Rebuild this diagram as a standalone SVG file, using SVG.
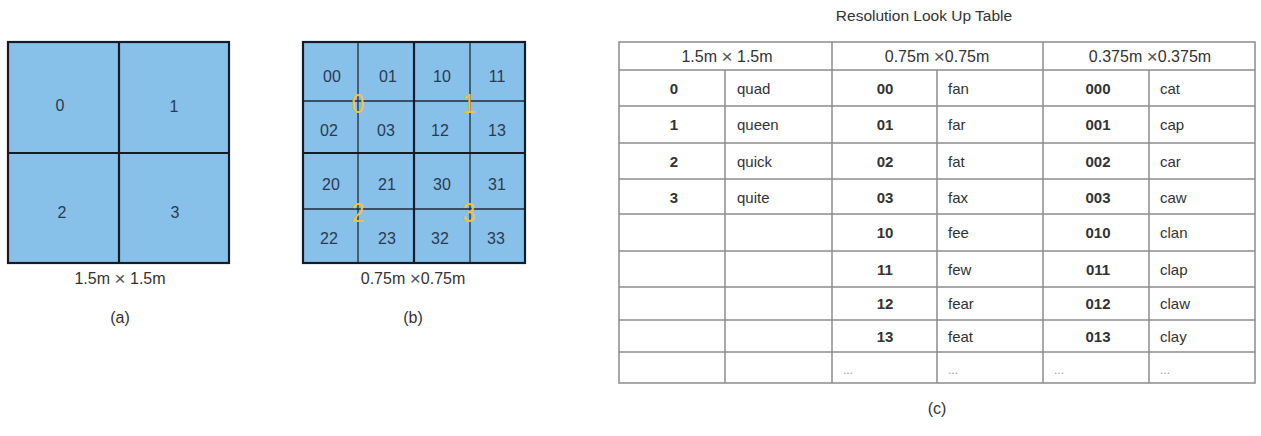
<svg xmlns="http://www.w3.org/2000/svg" width="1261" height="436" viewBox="0 0 1261 436">
<style>
.cell{fill:#87c0e9}
.thick{stroke:#161c26;stroke-width:2.2;fill:none}
.thin{stroke:#1f2a3d;stroke-width:1.3;fill:none}
.lbl{font-family:"Liberation Sans",Arial,sans-serif;font-size:16px;fill:#2b3a4f;text-anchor:middle;dominant-baseline:central}
.big{font-family:"Liberation Sans",Arial,sans-serif;font-size:27px;fill:#f0c23c;text-anchor:middle;dominant-baseline:central}
.cap{font-family:"Liberation Sans",Arial,sans-serif;font-size:16px;fill:#333;text-anchor:middle;dominant-baseline:central}
.x{font-size:19px;fill:#555}
.tl{stroke:#8c8c8c;stroke-width:1.5;fill:none}
.t{font-family:"Liberation Sans",Arial,sans-serif;font-size:15px;fill:#333;dominant-baseline:central}
.h{font-size:16px}
.b{font-weight:bold;text-anchor:middle}
.m{text-anchor:middle}
.d{fill:#999;font-size:12px}
</style>
<rect width="1261" height="436" fill="#ffffff"/>

<g id="grid-a">
<rect class="cell" x="8" y="42" width="221" height="221"/>
<line class="thick" x1="119" y1="42" x2="119" y2="263"/>
<line class="thick" x1="8" y1="153" x2="229" y2="153"/>
<rect class="thick" x="8" y="42" width="221" height="221"/>
<text class="lbl" x="60" y="105">0</text>
<text class="lbl" x="174" y="106">1</text>
<text class="lbl" x="62" y="212">2</text>
<text class="lbl" x="175" y="212">3</text>
<text class="cap" x="120" y="278">1.5m <tspan class="x">×</tspan> 1.5m</text>
<text class="cap" x="120" y="317">(a)</text>
</g>

<g id="grid-b">
<rect class="cell" x="303" y="42" width="222" height="221"/>
<line class="thin" x1="358" y1="42" x2="358" y2="263"/>
<line class="thin" x1="470" y1="42" x2="470" y2="263"/>
<line class="thin" x1="303" y1="101" x2="525" y2="101"/>
<line class="thin" x1="303" y1="209" x2="525" y2="209"/>
<line class="thick" x1="414" y1="42" x2="414" y2="263"/>
<line class="thick" x1="303" y1="153" x2="525" y2="153"/>
<rect class="thick" x="303" y="42" width="222" height="221"/>
<text class="lbl" x="332" y="76">00</text>
<text class="lbl" x="388" y="76">01</text>
<text class="lbl" x="442" y="76">10</text>
<text class="lbl" x="497" y="76">11</text>
<text class="lbl" x="329" y="130">02</text>
<text class="lbl" x="386" y="130">03</text>
<text class="lbl" x="440" y="130">12</text>
<text class="lbl" x="497" y="130">13</text>
<text class="lbl" x="331" y="184">20</text>
<text class="lbl" x="387" y="184">21</text>
<text class="lbl" x="442" y="184">30</text>
<text class="lbl" x="497" y="184">31</text>
<text class="lbl" x="329" y="238">22</text>
<text class="lbl" x="387" y="238">23</text>
<text class="lbl" x="440" y="238">32</text>
<text class="lbl" x="496" y="238">33</text>
<text class="big" x="358" y="103" transform="translate(358 103) scale(0.85 1) translate(-358 -103)">0</text>
<text class="big" x="469" y="103" transform="translate(469 103) scale(0.85 1) translate(-469 -103)">1</text>
<text class="big" x="358" y="212" transform="translate(358 212) scale(0.85 1) translate(-358 -212)">2</text>
<text class="big" x="469" y="212" transform="translate(469 212) scale(0.85 1) translate(-469 -212)">3</text>
<text class="cap" x="413" y="278">0.75m <tspan class="x">×</tspan>0.75m</text>
<text class="cap" x="413" y="317">(b)</text>
</g>

<g id="table">
<text class="cap" x="924" y="15" style="font-size:15.5px">Resolution Look Up Table</text>
<rect class="tl" x="619" y="42" width="636" height="341"/>
<line class="tl" x1="619" y1="70" x2="1255" y2="70"/>
<line class="tl" x1="619" y1="106" x2="1255" y2="106"/>
<line class="tl" x1="619" y1="143" x2="1255" y2="143"/>
<line class="tl" x1="619" y1="179" x2="1255" y2="179"/>
<line class="tl" x1="619" y1="214" x2="1255" y2="214"/>
<line class="tl" x1="619" y1="251" x2="1255" y2="251"/>
<line class="tl" x1="619" y1="287" x2="1255" y2="287"/>
<line class="tl" x1="619" y1="320" x2="1255" y2="320"/>
<line class="tl" x1="619" y1="352" x2="1255" y2="352"/>
<line class="tl" x1="832" y1="42" x2="832" y2="383"/>
<line class="tl" x1="1043" y1="42" x2="1043" y2="383"/>
<line class="tl" x1="725" y1="70" x2="725" y2="383"/>
<line class="tl" x1="937" y1="70" x2="937" y2="383"/>
<line class="tl" x1="1149" y1="70" x2="1149" y2="383"/>

<text class="t m h" x="727" y="56">1.5m <tspan class="x">×</tspan> 1.5m</text>
<text class="t m h" x="937" y="56">0.75m <tspan class="x">×</tspan>0.75m</text>
<text class="t m h" x="1150" y="56">0.375m <tspan class="x">×</tspan>0.375m</text>

<text class="t b" x="674" y="88">0</text><text class="t" x="737" y="88">quad</text>
<text class="t b" x="674" y="124">1</text><text class="t" x="737" y="124">queen</text>
<text class="t b" x="674" y="161">2</text><text class="t" x="737" y="161">quick</text>
<text class="t b" x="674" y="197">3</text><text class="t" x="737" y="197">quite</text>

<text class="t b" x="885" y="88">00</text><text class="t" x="948" y="88">fan</text>
<text class="t b" x="885" y="124">01</text><text class="t" x="948" y="124">far</text>
<text class="t b" x="885" y="161">02</text><text class="t" x="948" y="161">fat</text>
<text class="t b" x="885" y="197">03</text><text class="t" x="948" y="197">fax</text>
<text class="t b" x="885" y="232">10</text><text class="t" x="948" y="232">fee</text>
<text class="t b" x="885" y="269">11</text><text class="t" x="948" y="269">few</text>
<text class="t b" x="885" y="303">12</text><text class="t" x="948" y="303">fear</text>
<text class="t b" x="885" y="336">13</text><text class="t" x="948" y="336">feat</text>

<text class="t b" x="1098" y="88">000</text><text class="t" x="1160" y="88">cat</text>
<text class="t b" x="1098" y="124">001</text><text class="t" x="1160" y="124">cap</text>
<text class="t b" x="1098" y="161">002</text><text class="t" x="1160" y="161">car</text>
<text class="t b" x="1098" y="197">003</text><text class="t" x="1160" y="197">caw</text>
<text class="t b" x="1098" y="232">010</text><text class="t" x="1160" y="232">clan</text>
<text class="t b" x="1098" y="269">011</text><text class="t" x="1160" y="269">clap</text>
<text class="t b" x="1098" y="303">012</text><text class="t" x="1160" y="303">claw</text>
<text class="t b" x="1098" y="336">013</text><text class="t" x="1160" y="336">clay</text>

<text class="t d" x="843" y="370">...</text>
<text class="t d" x="948" y="370">...</text>
<text class="t d" x="1054" y="370">...</text>
<text class="t d" x="1160" y="370">...</text>

<text class="cap" x="937" y="408">(c)</text>
</g>
</svg>
